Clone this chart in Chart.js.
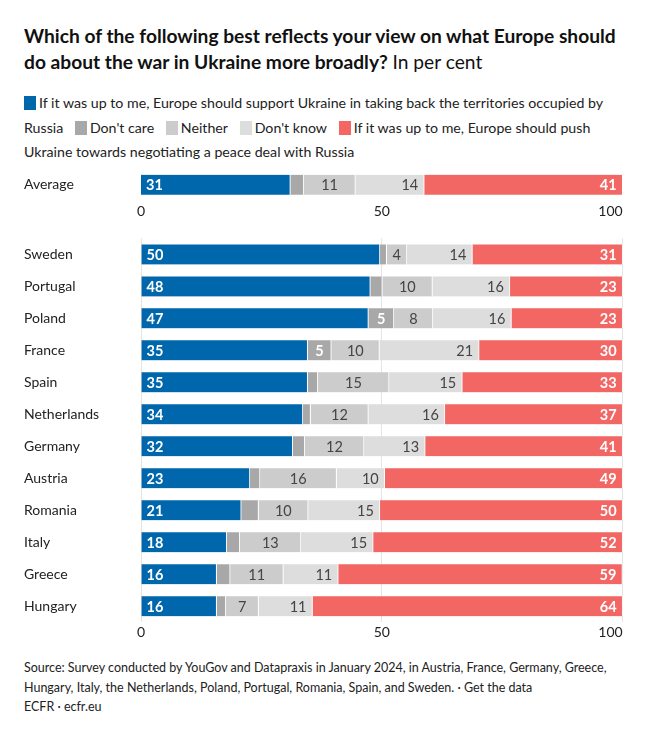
<!DOCTYPE html>
<html>
<head>
<meta charset="utf-8">
<script src="https://cdn.jsdelivr.net/npm/chart.js@4"></script>
<style>
  html, body { margin:0; padding:0; background:#fff; }
  body { width:659px; height:747px; position:relative; font-family: Lato, "Noto Sans", sans-serif; color:#222; overflow:hidden; }
  #title { position:absolute; left:24px; top:23px; font-size:19.2px; line-height:26px; font-weight:700; color:#111; white-space:nowrap; }
  #title span { font-weight:400; }
  #legend { position:absolute; left:24px; top:91px; font-size:14.2px; line-height:24.5px; color:#222; white-space:nowrap; }
  .sw { display:inline-block; width:12px; height:14px; vertical-align:-2px; margin-right:3px; }
  .it { margin-right:8px; }
  #footer { position:absolute; left:24px; top:658px; font-size:12.5px; line-height:19.5px; color:#222; white-space:nowrap; }
  #c1wrap { position:absolute; left:24px; top:163px; width:628px; height:62px; }
  #c2wrap { position:absolute; left:24px; top:230px; width:625px; height:413px; }
</style>
</head>
<body>
<div id="title">Which of the following best reflects your view on what Europe should<br>do about the war in Ukraine more broadly? <span>In per cent</span></div>
<div id="legend"></div>
<div id="c1wrap"><canvas id="c1"></canvas></div>
<div id="c2wrap"><canvas id="c2"></canvas></div>
<div id="footer">Source: Survey conducted by YouGov and Datapraxis in January 2024, in Austria, France, Germany, Greece,<br>Hungary, Italy, the Netherlands, Poland, Portugal, Romania, Spain, and Sweden. · Get the data<br>ECFR · ecfr.eu</div>
<script>
// ---- data ----
const seriesNames = [
  "If it was up to me, Europe should support Ukraine in taking back the territories occupied by Russia",
  "Don't care",
  "Neither",
  "Don't know",
  "If it was up to me, Europe should push Ukraine towards negotiating a peace deal with Russia"
];
const seriesColors = ["#0067AC", "#A8A8A8", "#CCCCCC", "#DDDDDD", "#F26764"];

const avgLabel = ["Average"];
const avgSupport = [31.0];
const avgDontCare = [2.8];
const avgNeither = [10.7];
const avgDontKnow = [14.3];
const avgPush = [41.2];

const countries = ["Sweden","Portugal","Poland","France","Spain","Netherlands","Germany","Austria","Romania","Italy","Greece","Hungary"];
const support  = [49.6, 47.6, 47.2, 34.6, 34.6, 33.6, 31.5, 22.6, 20.8, 17.8, 15.7, 15.7];
const dontCare = [1.4, 2.5, 5.3, 4.9, 2.1, 1.6, 2.5, 2.1, 3.6, 2.7, 2.8, 1.9];
const neither  = [4.2, 10.4, 8.1, 10.0, 14.8, 12.0, 12.3, 15.9, 10.3, 12.7, 11.05, 6.8];
const dontKnow = [13.6, 16.1, 16.3, 20.7, 15.2, 15.9, 12.7, 10.0, 14.9, 15.0, 11.4, 11.2];
const push     = [31.2, 23.4, 23.1, 29.8, 33.3, 36.9, 41.0, 49.4, 50.4, 51.8, 59.0, 64.4];

const xTicks = [0, 50, 100];

// ---- legend (HTML) ----
(function(){
  const lg = document.getElementById('legend');
  lg.innerHTML =
    '<span class="sw" style="background:'+seriesColors[0]+'"></span>If it was up to me, Europe should support Ukraine in taking back the territories occupied by<br>' +
    'Russia <span class="it"></span><span class="sw" style="background:'+seriesColors[1]+'"></span>'+seriesNames[1]+'<span class="it"></span> ' +
    '<span class="sw" style="background:'+seriesColors[2]+'"></span>'+seriesNames[2]+'<span class="it"></span> ' +
    '<span class="sw" style="background:'+seriesColors[3]+'"></span>'+seriesNames[3]+'<span class="it"></span> ' +
    '<span class="sw" style="background:'+seriesColors[4]+'"></span>If it was up to me, Europe should push<br>' +
    'Ukraine towards negotiating a peace deal with Russia';
})();

Chart.defaults.font.family = 'Lato, "Noto Sans", sans-serif';
Chart.defaults.font.size = 14;
Chart.defaults.color = '#222';
Chart.defaults.animation = false;

// label styles per series: [color, bold, align]
const labelStyle = [
  ['#fff', true, 'left'],
  ['#fff', true, 'center'],
  ['#444', false, 'center'],
  ['#444', false, 'right'],
  ['#fff', true, 'right']
];

const labelPlugin = {
  id: 'segLabels',
  afterDatasetsDraw(chart) {
    const ctx = chart.ctx;
    const area = chart.chartArea;
    ctx.save();
    chart.data.datasets.forEach((ds, di) => {
      const meta = chart.getDatasetMeta(di);
      const st = labelStyle[di];
      meta.data.forEach((el, i) => {
        const v = ds.data[i];
        if (v < 4) return;
        const x0 = Math.max(Math.min(el.base, el.x), area.left);
        const x1 = Math.min(Math.max(el.base, el.x), area.right);
        ctx.font = (st[1] ? 'bold ' : '') + '14.5px Lato, "Noto Sans", sans-serif';
        ctx.fillStyle = st[0];
        ctx.textBaseline = 'middle';
        let x;
        if (st[2] === 'left') { ctx.textAlign = 'left'; x = x0 + 5; }
        else if (st[2] === 'right') { ctx.textAlign = 'right'; x = x1 - 6; }
        else { ctx.textAlign = 'center'; x = (x0 + x1) / 2; }
        ctx.fillText(String(Math.round(v)), x, el.y + 1);
      });
    });
    ctx.restore();
  }
};

function makeDatasets(arrs) {
  return arrs.map((d, i) => ({
    label: seriesNames[i],
    data: d,
    backgroundColor: seriesColors[i],
    borderColor: '#ffffff',
    borderWidth: {left: 0, right: 1, top: 0, bottom: 0},
    borderSkipped: false,
    barThickness: 20,
    stack: 's'
  }));
}

function makeOptions(showGrid, tickPad) {
  return {
    indexAxis: 'y',
    responsive: true,
    maintainAspectRatio: false,
    layout: { padding: { left: 0, right: 0, top: 0, bottom: 0 } },
    plugins: { legend: { display: false }, tooltip: { enabled: false }, title: { display: false } },
    scales: {
      x: {
        stacked: true, min: 0, max: 100,
        afterBuildTicks: (s) => { s.ticks = xTicks.map(v => ({ value: v })); },
        ticks: {
          padding: tickPad, color: '#222', font: { size: 14 }, maxRotation: 0,
          // last label sits flush with the right end of the bars
          callback: (v) => v === 100 ? '100\u2007\u2007\u2007' : String(v)
        },
        grid: { display: showGrid, color: '#E4E4E4', drawTicks: false, lineWidth: 1 },
        border: { display: false }
      },
      y: {
        stacked: true,
        afterFit: (s) => { s.width = 117; },
        ticks: { crossAlign: 'far', padding: 0, color: '#222', font: { size: 14 } },
        grid: { display: false, drawTicks: false },
        border: { display: false }
      }
    }
  };
}

new Chart(document.getElementById('c1'), {
  type: 'bar',
  data: { labels: avgLabel, datasets: makeDatasets([avgSupport, avgDontCare, avgNeither, avgDontKnow, avgPush]) },
  options: makeOptions(false, 5),
  plugins: [labelPlugin]
});

new Chart(document.getElementById('c2'), {
  type: 'bar',
  data: { labels: countries, datasets: makeDatasets([support, dontCare, neither, dontKnow, push]) },
  options: makeOptions(true, 2),
  plugins: [labelPlugin]
});
</script>
</body>
</html>
